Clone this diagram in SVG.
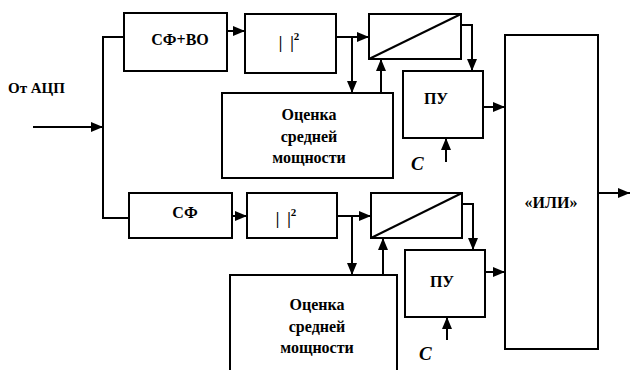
<svg xmlns="http://www.w3.org/2000/svg" width="630" height="370" viewBox="0 0 630 370">
<defs>
<style>
.box{fill:#fff;stroke:#000;stroke-width:2}
.ln{fill:none;stroke:#000;stroke-width:2}
.ar{fill:none;stroke:#000;stroke-width:2;marker-end:url(#ah)}
text{font-family:'Liberation Serif','Times New Roman',serif;fill:#000}
.t{font-weight:bold;font-size:16px;text-anchor:middle}
.c{font-weight:bold;font-style:italic;font-size:19px}
</style>
<marker id="ah" viewBox="0 0 12 10" refX="12" refY="5" markerWidth="12" markerHeight="10" markerUnits="userSpaceOnUse" orient="auto">
<path d="M0,0 L12,5 L0,10 z" fill="#000"/>
</marker>
</defs>
<rect width="630" height="370" fill="#fff"/>
<g id="connectors">
<path class="ar" d="M33,127 H103"/>
<path class="ln" d="M124,37 H103 V218 H129"/>
<path class="ar" d="M227,31 H245"/>
<path class="ar" d="M336,37 H369"/>
<path class="ar" d="M352,37 V93"/>
<path class="ar" d="M381,93 V59"/>
<path class="ar" d="M461,25 H472 V71"/>
<path class="ar" d="M483,107 H505"/>
<path class="ar" d="M446,162 V138"/>
<path class="ar" d="M232,216 H247"/>
<path class="ar" d="M337,216 H371"/>
<path class="ar" d="M352,216 V275"/>
<path class="ar" d="M383,275 V238"/>
<path class="ar" d="M462,204 H473 V250"/>
<path class="ar" d="M485,272 H505"/>
<path class="ar" d="M447,340 V317"/>
<path class="ar" d="M598,193 H630"/>
</g>
<g id="input-label"><text class="t" x="8" y="93" style="text-anchor:start;font-size:15px">От АЦП</text></g>
<g id="sf-vo"><rect class="box" x="124" y="13" width="103" height="58"/><text class="t" x="180" y="45">СФ+ВО</text></g>
<g id="sq-top"><rect class="box" x="245" y="14" width="91" height="59"/><text class="t" x="289" y="48">|&#160;&#160;|<tspan dy="-8" font-size="11">2</tspan></text></g>
<g id="div-top"><rect class="box" x="369" y="14" width="92" height="45"/><path class="ln" d="M369,59 L461,14"/></g>
<g id="est-top"><rect class="box" x="222" y="93" width="171" height="85"/><text class="t" x="309" y="120" font-size="16.5">Оценка</text><text class="t" x="309" y="142" font-size="16.5">средней</text><text class="t" x="309" y="163" font-size="16.5">мощности</text></g>
<g id="pu-top"><rect class="box" x="403" y="71" width="80" height="67"/><text class="t" x="436" y="104">ПУ</text></g>
<g id="c-top"><text class="c" x="411" y="170">C</text></g>
<g id="sf"><rect class="box" x="129" y="193" width="103" height="45"/><text class="t" x="185" y="218">СФ</text></g>
<g id="sq-bot"><rect class="box" x="247" y="193" width="90" height="45"/><text class="t" x="286" y="224">|&#160;&#160;|<tspan dy="-8" font-size="11">2</tspan></text></g>
<g id="div-bot"><rect class="box" x="371" y="193" width="91" height="45"/><path class="ln" d="M371,238 L462,193"/></g>
<g id="est-bot"><rect class="box" x="230" y="275" width="167" height="100"/><text class="t" x="317" y="310" font-size="16.5">Оценка</text><text class="t" x="317" y="332" font-size="16.5">средней</text><text class="t" x="317" y="353" font-size="16.5">мощности</text></g>
<g id="pu-bot"><rect class="box" x="405" y="250" width="80" height="67"/><text class="t" x="442" y="287">ПУ</text></g>
<g id="c-bot"><text class="c" x="419" y="360">C</text></g>
<g id="or"><rect class="box" x="505" y="35" width="93" height="314"/><text class="t" x="551" y="208">«ИЛИ»</text></g>
</svg>
